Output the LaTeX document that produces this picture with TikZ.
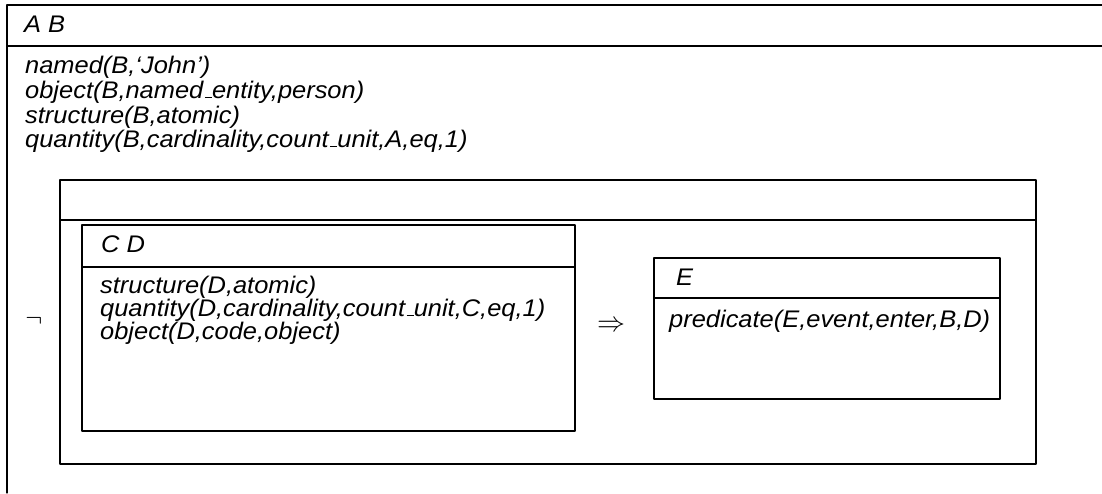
\documentclass[tikz,border=0pt]{standalone}
\usepackage{fontspec}
\setmainfont{Liberation Sans}[FakeStretch=1.06]
\newcommand{\ubar}{\kern.06em\vbox{\hrule width.3em height 1.1pt}}
\begin{document}
\begin{tikzpicture}[x=1pt,y=-1pt,line cap=round,line join=round,
  box/.style={line width=1.1pt},
  cond/.style={anchor=base west,inner sep=0pt,font=\fontsize{24}{26}\selectfont\itshape},
  op/.style={anchor=center,inner sep=0pt}]
  \useasboundingbox (0,0) rectangle (1102,493);
  % outer drs
  \draw[box] (1102,5) -- (7,5) -- (7,493);
  \draw[box] (7,46) -- (1102,46);
  \node[cond] (refAB) at (24,32) {A B};
  \node[cond] (named) at (25,73) {named(B,`John')};
  \node[cond] (objB) at (25,98) {object(B,named\ubar entity,person)};
  \node[cond] (strB) at (25,123) {structure(B,atomic)};
  \node[cond] (qtyB) at (25,147) {quantity(B,cardinality,count\ubar unit,A,eq,1)};
  % negated drs
  \node[op] (neg) at (34,321) {\resizebox{17pt}{!}{$\neg$}};
  \draw[box] (60,180) rectangle (1036,464);
  \draw[box] (60,220) -- (1036,220);
  % antecedent
  \draw[box] (82,225) rectangle (575,431);
  \draw[box] (82,267) -- (575,267);
  \node[cond] (refCD) at (101,252) {C D};
  \node[cond] (strD) at (100,293) {structure(D,atomic)};
  \node[cond] (qtyD) at (100,316) {quantity(D,cardinality,count\ubar unit,C,eq,1)};
  \node[cond] (objD) at (100,339) {object(D,code,object)};
  \node[op] (impl) at (611,326) {\resizebox{28pt}{!}{$\Rightarrow$}};
  % consequent
  \draw[box] (654,258) rectangle (1000,399);
  \draw[box] (654,298) -- (1000,298);
  \node[cond] (refE) at (676,285) {E};
  \node[cond] (pred) at (669,327) {predicate(E,event,enter,B,D)};
\end{tikzpicture}
\end{document}
